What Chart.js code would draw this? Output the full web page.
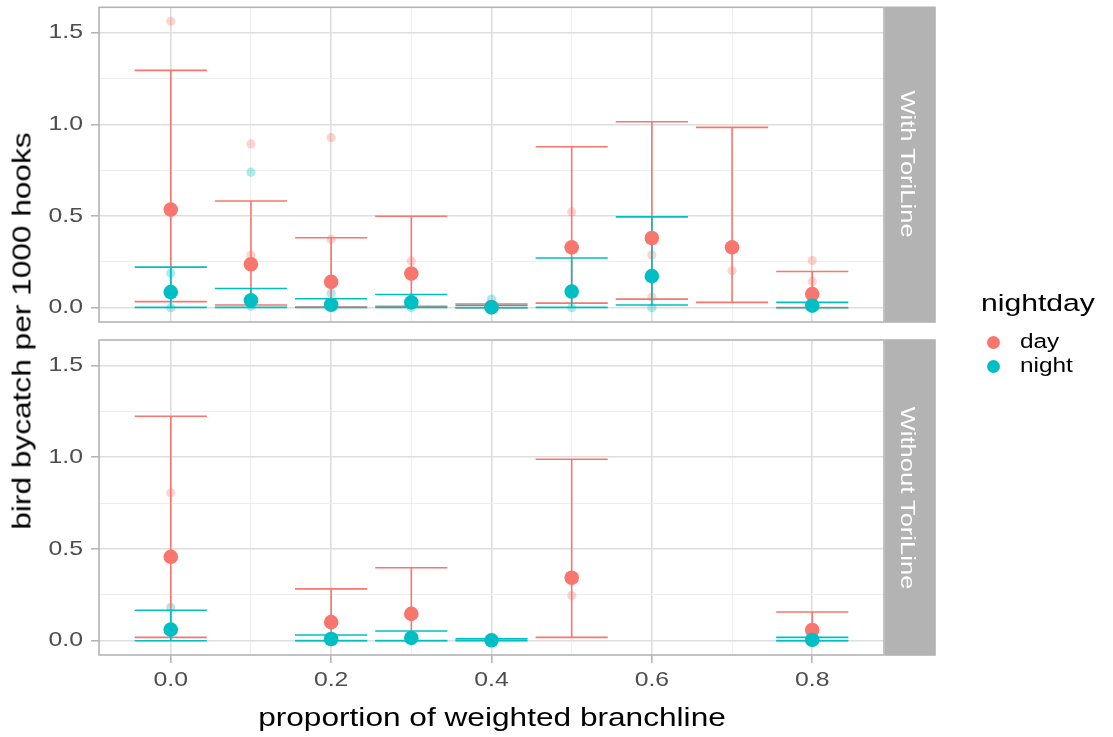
<!DOCTYPE html>
<html>
<head>
<meta charset="utf-8">
<script src="https://cdn.jsdelivr.net/npm/chart.js@4.4.1/dist/chart.umd.min.js"></script>
<style>
html,body{margin:0;padding:0;background:#fff;}
#wrap{position:relative;width:1113px;height:737px;overflow:hidden;background:#fff;font-family:"Liberation Sans",Arial,Helvetica,sans-serif;}
#wrap canvas{position:absolute;left:0;}
.t{position:absolute;white-space:nowrap;line-height:1;color:#000;}
.dot{position:absolute;width:13px;height:13px;border-radius:50%;}
</style>
</head>
<body>
<div id="wrap">
  <canvas id="cTop" width="1113" height="330" style="top:0px"></canvas>
  <canvas id="cBot" width="1113" height="407" style="top:330px"></canvas>
  <div class="t" id="yTitle" style="font-size:25px;left:22.4px;top:330.5px;transform:translate(-50%,-50%) rotate(-90deg) scaleX(1.265);"></div>
  <div class="t" id="xTitle" style="font-size:25px;left:491.5px;top:717.3px;transform:translate(-50%,-50%) scaleX(1.265);"></div>
  <div class="t" id="strip0" style="font-size:19.5px;color:#fff;left:906.6px;top:164px;transform:translate(-50%,-50%) rotate(90deg) scaleX(1.31);"></div>
  <div class="t" id="strip1" style="font-size:19.5px;color:#fff;left:906.6px;top:497.5px;transform:translate(-50%,-50%) rotate(90deg) scaleX(1.31);"></div>
  <div class="t" id="legTitle" style="font-size:24.5px;left:981px;top:291px;transform:scaleX(1.23);transform-origin:0 50%;"></div>
  <div class="dot" id="legDot0" style="left:986.8px;top:335.5px;"></div>
  <div class="dot" id="legDot1" style="left:986.8px;top:359.5px;"></div>
  <div class="t" id="legLab0" style="font-size:19.5px;left:1020px;top:332.3px;transform:scaleX(1.25);transform-origin:0 50%;"></div>
  <div class="t" id="legLab1" style="font-size:19.5px;left:1020px;top:356.3px;transform:scaleX(1.25);transform-origin:0 50%;"></div>
</div>
<script>
// ---------- data ----------
const xCategories = [0.0, 0.1, 0.2, 0.3, 0.4, 0.5, 0.6, 0.7, 0.8];
const xTickValues = [0.0, 0.2, 0.4, 0.6, 0.8];
const xTickLabels = ['0.0', '0.2', '0.4', '0.6', '0.8'];
const xMinorValues = [0.1, 0.3, 0.5, 0.7];
const yTickValues = [0.0, 0.5, 1.0, 1.5];
const yTickLabels = ['0.0', '0.5', '1.0', '1.5'];
const yMinorValues = [0.25, 0.75, 1.25];
const panelLabels = ['With ToriLine', 'Without ToriLine'];
const legendTitle = 'nightday';
const seriesNames = ['day', 'night'];
const xAxisTitle = 'proportion of weighted branchline';
const yAxisTitle = 'bird bycatch per 1000 hooks';

// Panel "With ToriLine"
const withDayMean    = [0.535, 0.237, 0.141, 0.186, 0.004, 0.329, 0.380, 0.329, 0.074];
const withDayUpper   = [1.294, 0.582, 0.381, 0.499, 0.020, 0.878, 1.014, 0.983, 0.197];
const withDayLower   = [0.033, 0.015, 0.003, 0.007, 0.000, 0.025, 0.047, 0.029, 0.001];
const withNightMean  = [0.085, 0.040, 0.016, 0.029, 0.002, 0.088, 0.172, null, 0.011];
const withNightUpper = [0.221, 0.105, 0.049, 0.072, 0.012, 0.271, 0.495, null, 0.029];
const withNightLower = [0.002, 0.002, 0.001, 0.002, 0.000, 0.002, 0.015, null, 0.000];
const withDayRawX    = [0.0, 0.1, 0.1, 0.2, 0.2, 0.3, 0.5, 0.6, 0.6, 0.7, 0.8, 0.8];
const withDayRawY    = [1.562, 0.893, 0.287, 0.927, 0.372, 0.255, 0.522, 0.287, 0.058, 0.201, 0.257, 0.143];
const withNightRawX  = [0.0, 0.0, 0.1, 0.1, 0.2, 0.3, 0.4, 0.5, 0.6];
const withNightRawY  = [0.188, 0.0, 0.739, 0.008, 0.080, 0.0, 0.047, 0.0, 0.0];

// Panel "Without ToriLine"
const withoutDayMean    = [0.457, null, 0.101, 0.146, null, 0.343, null, null, 0.058];
const withoutDayUpper   = [1.223, null, 0.282, 0.397, null, 0.988, null, null, 0.156];
const withoutDayLower   = [0.018, null, 0.001, 0.001, null, 0.018, null, null, 0.001];
const withoutNightMean  = [0.060, null, 0.009, 0.015, 0.002, null, null, null, 0.004];
const withoutNightUpper = [0.166, null, 0.031, 0.053, 0.010, null, null, null, 0.018];
const withoutNightLower = [0.000, null, 0.000, 0.000, 0.000, null, null, null, 0.000];
const withoutDayRawX    = [0.0, 0.5];
const withoutDayRawY    = [0.806, 0.246];
const withoutNightRawX  = [0.0];
const withoutNightRawY  = [0.181];

// ---------- styles ----------
const DAY = '#F8766D', NIGHT = '#00BFC4';
const DAY_FAINT = 'rgba(248,118,109,0.32)', NIGHT_FAINT = 'rgba(0,191,196,0.32)';
const ERR_HALF = 0.045;
const X_MIN = -0.0895, X_MAX = 0.8895;
const Y_MIN = -0.078, Y_MAX = 1.638;
const TEXT_STRETCH = 1.18;
const FONT = '"Liberation Sans", Arial, sans-serif';

// ---------- html text ----------
document.getElementById('yTitle').textContent = yAxisTitle;
document.getElementById('xTitle').textContent = xAxisTitle;
document.getElementById('strip0').textContent = panelLabels[0];
document.getElementById('strip1').textContent = panelLabels[1];
document.getElementById('legTitle').textContent = legendTitle;
document.getElementById('legLab0').textContent = seriesNames[0];
document.getElementById('legLab1').textContent = seriesNames[1];
document.getElementById('legDot0').style.background = DAY;
document.getElementById('legDot1').style.background = NIGHT;

// ---------- helpers ----------
function pts(xs, ys) {
  const out = [];
  xs.forEach((x, i) => { if (ys[i] != null) out.push({x: x, y: ys[i]}); });
  return out;
}
function errorBarPoints(xs, lows, highs) {
  const out = [];
  xs.forEach((x, i) => {
    if (lows[i] == null || highs[i] == null) return;
    out.push({x: x - ERR_HALF, y: highs[i]}, {x: x + ERR_HALF, y: highs[i]}, {x: x, y: null});
    out.push({x: x, y: highs[i]}, {x: x, y: lows[i]}, {x: x, y: null});
    out.push({x: x - ERR_HALF, y: lows[i]}, {x: x + ERR_HALF, y: lows[i]}, {x: x, y: null});
  });
  return out;
}
function near(a, list) { return list.some(v => Math.abs(v - a) < 1e-6); }

function buildDatasets(p) {
  return [
    {label: 'night mean', data: pts(xCategories, p.nightMean), backgroundColor: NIGHT, pointRadius: 7.3, pointBorderWidth: 0, order: 0},
    {label: 'day mean', data: pts(xCategories, p.dayMean), backgroundColor: DAY, pointRadius: 7.3, pointBorderWidth: 0, order: 1},
    {label: 'night err', data: errorBarPoints(xCategories, p.nightLower, p.nightUpper), showLine: true, borderColor: NIGHT, borderWidth: 1.6, pointRadius: 0, spanGaps: false, order: 2},
    {label: 'day err', data: errorBarPoints(xCategories, p.dayLower, p.dayUpper), showLine: true, borderColor: DAY, borderWidth: 1.6, pointRadius: 0, spanGaps: false, order: 3},
    {label: 'night raw', data: pts(p.nightRawX, p.nightRawY), backgroundColor: NIGHT_FAINT, pointRadius: 4.6, pointBorderWidth: 0, order: 4},
    {label: 'day raw', data: pts(p.dayRawX, p.dayRawY), backgroundColor: DAY_FAINT, pointRadius: 4.6, pointBorderWidth: 0, order: 5}
  ];
}

const stretchText = {
  id: 'stretchText',
  beforeDraw(chart) {
    const ctx = chart.ctx;
    if (ctx.__stretched) return;
    const orig = ctx.fillText;
    ctx.fillText = function (t, x, y, mw) {
      this.save();
      this.translate(x, y);
      this.scale(TEXT_STRETCH, 1);
      if (mw === undefined) orig.call(this, t, 0, 0);
      else orig.call(this, t, 0, 0, mw / TEXT_STRETCH);
      this.restore();
    };
    ctx.__stretched = true;
  }
};

const panelFrame = {
  id: 'panelFrame',
  afterDatasetsDraw(chart) {
    const a = chart.chartArea, ctx = chart.ctx;
    ctx.save();
    ctx.strokeStyle = '#B3B3B3';
    ctx.lineWidth = 1.6;
    ctx.strokeRect(a.left, a.top, a.right - a.left, a.bottom - a.top);
    ctx.restore();
  },
  afterDraw(chart) {
    const a = chart.chartArea, ctx = chart.ctx;
    ctx.save();
    ctx.fillStyle = '#B3B3B3';
    ctx.fillRect(a.right + 0.8, a.top - 0.8, 51, a.bottom - a.top + 1.6);
    ctx.restore();
  }
};

function zeroPad(s) { s.paddingTop = 0; s.paddingBottom = 0; s.paddingLeft = 0; s.paddingRight = 0; }

function makeChart(canvasId, panel, isBottom) {
  const canvasH = document.getElementById(canvasId).height;
  const padTop = isBottom ? 10 : 6;
  const areaBottom = isBottom ? 325 : 322;
  return new Chart(document.getElementById(canvasId), {
    type: 'scatter',
    data: {datasets: buildDatasets(panel)},
    options: {
      responsive: false,
      maintainAspectRatio: false,
      devicePixelRatio: 1,
      animation: false,
      events: [],
      layout: {padding: {left: 0, right: 229, top: padTop, bottom: isBottom ? 0 : canvasH - areaBottom}},
      plugins: {legend: {display: false}, tooltip: {enabled: false}},
      scales: {
        x: {
          type: 'linear', min: X_MIN, max: X_MAX,
          afterBuildTicks: (s) => { s.ticks = xTickValues.concat(xMinorValues).sort((a, b) => a - b).map(v => ({value: v})); },
          afterFit: (s) => { s.height = isBottom ? canvasH - areaBottom : 0; zeroPad(s); },
          border: {display: false},
          grid: {
            drawTicks: isBottom, tickLength: 8,
            color: (c) => near(c.tick.value, xTickValues) ? '#DEDEDE' : '#EEEEEE',
            lineWidth: (c) => near(c.tick.value, xTickValues) ? 1.6 : 1,
            tickColor: (c) => near(c.tick.value, xTickValues) ? '#B3B3B3' : 'rgba(0,0,0,0)',
            tickWidth: 1.5
          },
          ticks: {
            display: isBottom, autoSkip: false, maxRotation: 0, padding: 5,
            color: '#4D4D4D', font: {family: FONT, size: 21},
            callback: (v) => { const i = xTickValues.findIndex(t => Math.abs(t - v) < 1e-6); return i >= 0 ? xTickLabels[i] : ''; }
          }
        },
        y: {
          type: 'linear', min: Y_MIN, max: Y_MAX,
          afterBuildTicks: (s) => { s.ticks = yTickValues.concat(yMinorValues).sort((a, b) => a - b).map(v => ({value: v})); },
          afterFit: (s) => { s.width = 99; zeroPad(s); },
          border: {display: false},
          grid: {
            drawTicks: true, tickLength: 8,
            color: (c) => near(c.tick.value, yTickValues) ? '#DEDEDE' : '#EEEEEE',
            lineWidth: (c) => near(c.tick.value, yTickValues) ? 1.6 : 1,
            tickColor: (c) => near(c.tick.value, yTickValues) ? '#B3B3B3' : 'rgba(0,0,0,0)',
            tickWidth: 1.5
          },
          ticks: {
            autoSkip: false, padding: 8,
            color: '#4D4D4D', font: {family: FONT, size: 21},
            callback: (v) => { const i = yTickValues.findIndex(t => Math.abs(t - v) < 1e-6); return i >= 0 ? yTickLabels[i] : ''; }
          }
        }
      }
    },
    plugins: [stretchText, panelFrame]
  });
}

makeChart('cTop', {
  dayMean: withDayMean, dayUpper: withDayUpper, dayLower: withDayLower,
  nightMean: withNightMean, nightUpper: withNightUpper, nightLower: withNightLower,
  dayRawX: withDayRawX, dayRawY: withDayRawY, nightRawX: withNightRawX, nightRawY: withNightRawY
}, false);

makeChart('cBot', {
  dayMean: withoutDayMean, dayUpper: withoutDayUpper, dayLower: withoutDayLower,
  nightMean: withoutNightMean, nightUpper: withoutNightUpper, nightLower: withoutNightLower,
  dayRawX: withoutDayRawX, dayRawY: withoutDayRawY, nightRawX: withoutNightRawX, nightRawY: withoutNightRawY
}, true);
</script>
</body>
</html>
